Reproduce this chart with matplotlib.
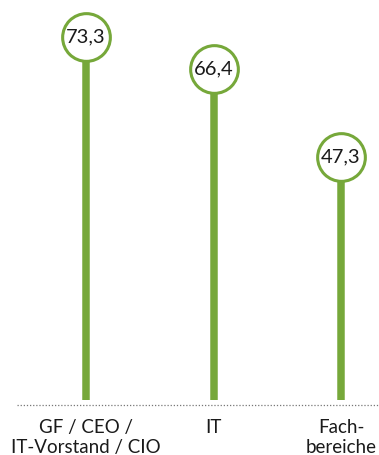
import matplotlib.pyplot as plt

categories = ["GF / CEO /\nIT-Vorstand / CIO", "IT", "Fach-\nbereiche"]
values = [73.3, 66.4, 47.3]
value_labels = ["73,3", "66,4", "47,3"]

green = "#76a83a"
text_col = "#1a1a1a"

plt.rcParams['font.family'] = ['Lato', 'DejaVu Sans']

fig = plt.figure(figsize=(3.79, 4.55), dpi=100)
ax = fig.add_axes([0, 50 / 455, 1, 405 / 455])

x = list(range(len(categories)))
stem_bottom = -5.3

# stems
ax.vlines(x, stem_bottom, values, color=green, linewidth=5.4, zorder=1)
# circles
ax.scatter(x, values, s=1180, facecolor="white", edgecolor=green, linewidth=2.2, zorder=2)
for xi, v, lab in zip(x, values, value_labels):
    ax.text(xi, v, lab, ha="center", va="center", fontsize=14.5,
            color=text_col, zorder=3)

# dotted baseline
ax.plot([-0.54, 2.3], [-6.4, -6.4], linestyle=(0, (1, 1.5)), color="#777777",
        linewidth=0.9, clip_on=False)

ax.set_xlim(-0.675, 2.298)
ax.set_ylim(-6.4, 81.3)
ax.set_xticks(x)
ax.set_xticklabels(categories, fontsize=13.5, color=text_col, linespacing=1.2)
ax.tick_params(axis="x", length=0, pad=10)
ax.set_yticks([])
for s in ax.spines.values():
    s.set_visible(False)

fig.savefig("out.png", dpi=100)
